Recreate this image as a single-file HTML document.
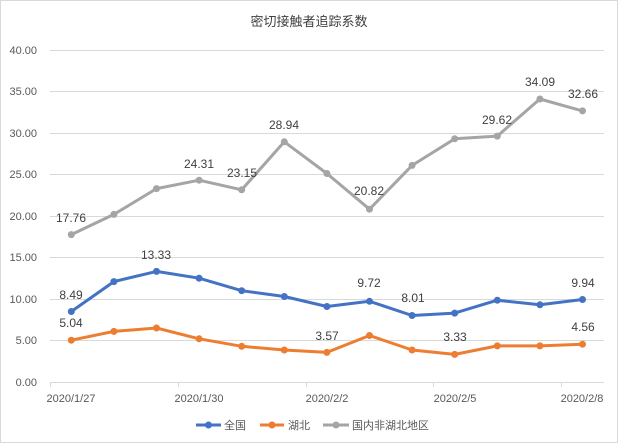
<!DOCTYPE html><html><head><meta charset="utf-8"><style>body{margin:0;background:#fff}</style></head><body>
<svg width="618" height="443" xmlns="http://www.w3.org/2000/svg" font-family="Liberation Sans, Noto Sans CJK SC, sans-serif">
<rect x="0.5" y="0.5" width="617" height="442" fill="#fff" stroke="#d9d9d9"/>
<text x="309" y="26" text-anchor="middle" font-size="13" fill="#404040">密切接触者追踪系数</text>
<g stroke="#d9d9d9" stroke-width="1">
<line x1="50" x2="604" y1="50.5" y2="50.5"/><line x1="50" x2="604" y1="91.5" y2="91.5"/><line x1="50" x2="604" y1="133.5" y2="133.5"/><line x1="50" x2="604" y1="174.5" y2="174.5"/><line x1="50" x2="604" y1="216.5" y2="216.5"/><line x1="50" x2="604" y1="257.5" y2="257.5"/><line x1="50" x2="604" y1="299.5" y2="299.5"/><line x1="50" x2="604" y1="340.5" y2="340.5"/><line x1="50" x2="604" y1="382.5" y2="382.5"/>
<line x1="50.5" x2="50.5" y1="382" y2="387"/><line x1="178.5" x2="178.5" y1="382" y2="387"/><line x1="306.5" x2="306.5" y1="382" y2="387"/><line x1="433.5" x2="433.5" y1="382" y2="387"/><line x1="561.5" x2="561.5" y1="382" y2="387"/>
</g>
<g font-size="11" fill="#595959" text-anchor="end">
<text x="37" y="54">40.00</text><text x="37" y="95">35.00</text><text x="37" y="137">30.00</text><text x="37" y="178">25.00</text><text x="37" y="220">20.00</text><text x="37" y="261">15.00</text><text x="37" y="303">10.00</text><text x="37" y="344">5.00</text><text x="37" y="386">0.00</text>
</g>
<g font-size="11" fill="#595959" text-anchor="middle">
<text x="71" y="402">2020/1/27</text><text x="199" y="402">2020/1/30</text><text x="327" y="402">2020/2/2</text><text x="455" y="402">2020/2/5</text><text x="582" y="402">2020/2/8</text>
</g>
<g fill="none" stroke-width="3" stroke-linejoin="round">
<polyline stroke="#a5a5a5" points="71.3,234.6 113.9,214.4 156.5,188.6 199.1,180.2 241.7,189.8 284.3,141.8 326.9,173.5 369.5,209.2 412.1,165.4 454.7,138.8 497.3,136.1 539.9,99 582.5,110.9"/>
<polyline stroke="#4472c4" points="71.3,311.5 113.9,281.6 156.5,271.4 199.1,278.2 241.7,290.7 284.3,296.5 326.9,306.5 369.5,301.3 412.1,315.5 454.7,313.1 497.3,300.2 539.9,304.8 582.5,299.5"/>
<polyline stroke="#ed7d31" points="71.3,340.2 113.9,331.4 156.5,328 199.1,338.8 241.7,346.3 284.3,350 326.9,352.4 369.5,335.5 412.1,350 454.7,354.4 497.3,345.9 539.9,345.9 582.5,344.2"/>
</g>
<g fill="#a5a5a5"><circle cx="71.3" cy="234.6" r="3.5"/><circle cx="113.9" cy="214.4" r="3.5"/><circle cx="156.5" cy="188.6" r="3.5"/><circle cx="199.1" cy="180.2" r="3.5"/><circle cx="241.7" cy="189.8" r="3.5"/><circle cx="284.3" cy="141.8" r="3.5"/><circle cx="326.9" cy="173.5" r="3.5"/><circle cx="369.5" cy="209.2" r="3.5"/><circle cx="412.1" cy="165.4" r="3.5"/><circle cx="454.7" cy="138.8" r="3.5"/><circle cx="497.3" cy="136.1" r="3.5"/><circle cx="539.9" cy="99" r="3.5"/><circle cx="582.5" cy="110.9" r="3.5"/></g>
<g fill="#4472c4"><circle cx="71.3" cy="311.5" r="3.5"/><circle cx="113.9" cy="281.6" r="3.5"/><circle cx="156.5" cy="271.4" r="3.5"/><circle cx="199.1" cy="278.2" r="3.5"/><circle cx="241.7" cy="290.7" r="3.5"/><circle cx="284.3" cy="296.5" r="3.5"/><circle cx="326.9" cy="306.5" r="3.5"/><circle cx="369.5" cy="301.3" r="3.5"/><circle cx="412.1" cy="315.5" r="3.5"/><circle cx="454.7" cy="313.1" r="3.5"/><circle cx="497.3" cy="300.2" r="3.5"/><circle cx="539.9" cy="304.8" r="3.5"/><circle cx="582.5" cy="299.5" r="3.5"/></g>
<g fill="#ed7d31"><circle cx="71.3" cy="340.2" r="3.5"/><circle cx="113.9" cy="331.4" r="3.5"/><circle cx="156.5" cy="328" r="3.5"/><circle cx="199.1" cy="338.8" r="3.5"/><circle cx="241.7" cy="346.3" r="3.5"/><circle cx="284.3" cy="350" r="3.5"/><circle cx="326.9" cy="352.4" r="3.5"/><circle cx="369.5" cy="335.5" r="3.5"/><circle cx="412.1" cy="350" r="3.5"/><circle cx="454.7" cy="354.4" r="3.5"/><circle cx="497.3" cy="345.9" r="3.5"/><circle cx="539.9" cy="345.9" r="3.5"/><circle cx="582.5" cy="344.2" r="3.5"/></g>
<g font-size="12" fill="#404040" text-anchor="middle">
<text x="71" y="222">17.76</text><text x="199" y="168">24.31</text><text x="242" y="177">23.15</text><text x="284" y="129">28.94</text><text x="369" y="195">20.82</text><text x="497" y="124">29.62</text><text x="540" y="86">34.09</text><text x="583" y="98">32.66</text>
<text x="71" y="299">8.49</text><text x="156" y="259">13.33</text><text x="369" y="287">9.72</text><text x="413" y="302">8.01</text><text x="583" y="287">9.94</text>
<text x="71" y="327">5.04</text><text x="327" y="340">3.57</text><text x="455" y="341">3.33</text><text x="583" y="331">4.56</text>
</g>
<g stroke-width="3"><line x1="196" x2="221" y1="425" y2="425" stroke="#4472c4"/><circle cx="208.5" cy="425" r="3.5" fill="#4472c4"/>
<line x1="260" x2="284" y1="425" y2="425" stroke="#ed7d31"/><circle cx="272" cy="425" r="3.5" fill="#ed7d31"/>
<line x1="323" x2="349" y1="425" y2="425" stroke="#a5a5a5"/><circle cx="336" cy="425" r="3.5" fill="#a5a5a5"/></g>
<g font-size="11" fill="#595959"><text x="224" y="429">全国</text><text x="288" y="429">湖北</text><text x="352" y="429">国内非湖北地区</text></g>
</svg></body></html>
